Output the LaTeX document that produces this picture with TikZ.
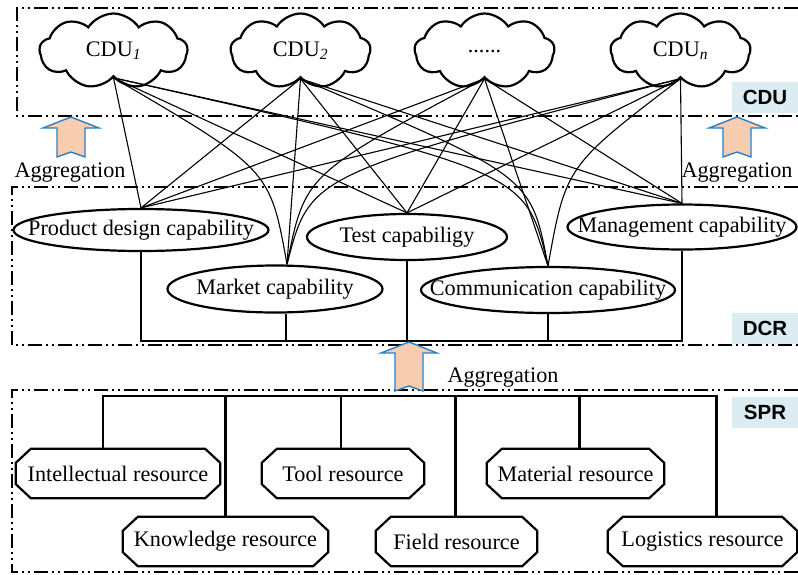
\documentclass[tikz,border=0pt]{standalone}
\usepackage{fontspec}
\setmainfont{Liberation Serif}
\newfontfamily\labsans{Liberation Sans}
\usetikzlibrary{shapes.symbols,shapes.misc,shapes.geometric,calc}
\definecolor{labbg}{RGB}{219,236,243}
\definecolor{arrfill}{RGB}{248,204,174}
\definecolor{arredge}{RGB}{40,128,205}
\begin{document}
\begin{tikzpicture}[x=1pt,y=-1pt,
  frame/.style={line width=1.8pt, dash pattern=on 14pt off 4pt on 2pt off 4pt on 2pt off 4pt},
  cloudn/.style={cloud, cloud puffs=9, cloud puff arc=115, cloud ignores aspect, draw, line width=2.2pt, minimum width=140pt, minimum height=75pt, inner sep=0pt, font=\fontsize{22.2}{26}\selectfont},
  capnode/.style={ellipse, draw, line width=2.2pt, inner sep=0pt, font=\fontsize{22.2}{26}\selectfont},
  res/.style={rectangle, inner sep=0pt, minimum height=49pt, font=\fontsize{22.2}{26}\selectfont},
  octo/.style={line width=2.2pt, line join=miter},
  link/.style={line width=1.1pt},
  bus/.style={line width=2.2pt},
  lab/.style={fill=labbg, font=\labsans\bfseries\fontsize{20.5}{24}\selectfont, minimum width=66pt, minimum height=31pt, inner sep=0pt},
  agg/.style={font=\fontsize{22.2}{26}\selectfont, inner sep=0pt},
  blockarrow/.style={fill=arrfill, draw=arredge, line width=1.4pt, line join=miter}]
\useasboundingbox (0,0) rectangle (798,574);

% frames
\draw[frame] (798,8) -- (17,8) -- (17,116) -- (798,116);
\draw[frame] (798,187) -- (12,187) -- (12,345) -- (798,345);
\draw[frame] (798,390) -- (12,390) -- (12,572) -- (798,572);

% layer labels
\node[lab] (lcdu) at (765,97) {CDU};
\node[lab] (ldcr) at (765,328) {DCR};
\node[lab] (lspr) at (765,412) {SPR};

% clouds
\node[cloudn, minimum width=148pt] (c1) at (113.5,51) {\raisebox{-7pt}{\makebox[0pt]{CDU\textsubscript{\textit{1}}}}};
\node[cloudn] (c2) at (300.5,51) {\raisebox{-7pt}{\makebox[0pt]{CDU\textsubscript{\textit{2}}}}};
\node[cloudn] (c3) at (484.5,51) {\raisebox{-3pt}{\makebox[0pt]{......}}};
\node[cloudn] (cn) at (680.5,51) {\raisebox{-7pt}{\makebox[0pt]{CDU\textsubscript{\textit{n}}}}};

% capabilities
\node[capnode, minimum width=255pt, minimum height=42pt] (pd) at (141,230) {\makebox[0pt]{Product design capability}};
\node[capnode, minimum width=215pt, minimum height=47pt] (mk) at (275,289) {\makebox[0pt]{Market capability}};
\node[capnode, minimum width=200pt, minimum height=46pt] (ts) at (407,237) {\makebox[0pt]{Test capabiligy}};
\node[capnode, minimum width=254pt, minimum height=46pt] (cm) at (548,290) {\makebox[0pt]{Communication capability}};
\node[capnode, minimum width=229pt, minimum height=45pt] (mg) at (682,227) {\makebox[0pt]{Management capability}};

% links CDU -> capabilities
\foreach \c in {c1,c2,c3,cn}{
  \draw[link] (\c.south) -- (pd.north);
  \draw[link] (\c.south) -- (ts.north);
  \draw[link] (\c.south) -- (mg.north);
}
\coordinate (mkt) at ($(mk.north)+(12,0)$);
\draw[link] (c2.south) -- (mkt);
\draw[link] (c1.south) .. controls ($(mkt)+(-17,-95)$) .. (mkt);
\draw[link] (c3.south) .. controls ($(mkt)+(18,-90)$) .. (mkt);
\draw[link] (cn.south) .. controls ($(mkt)+(23,-90)$) .. (mkt);
\draw[link] (c3.south) -- (cm.north);
\draw[link] (c1.south) .. controls ($(cm.north)+(-22,-95)$) .. (cm.north);
\draw[link] (c2.south) .. controls ($(cm.north)+(-17,-90)$) .. (cm.north);
\draw[link] (cn.south) .. controls ($(cm.north)+(18,-100)$) .. (cm.north);

% DCR bus
\coordinate (busD) at (0,341);
\draw[bus] (pd.south) |- (mg.south |- busD) -- (mg.south);
\draw[bus] ($(mk.south)+(11,0)$) -- ($(mk.south |- busD)+(11,0)$);
\draw[bus] (ts.south) -- (ts.south |- busD);
\draw[bus] (cm.south) -- (cm.south |- busD);

% resources
\node[res, minimum width=204pt] (int) at (118,473.5) {\makebox[0pt]{Intellectual resource}};
\node[res, minimum width=205pt] (knw) at (225.5,541.5) {\makebox[0pt]{Knowledge resource}};
\node[res, minimum width=162pt] (tool) at (343,473.5) {\makebox[0pt]{Tool resource}};
\node[res, minimum width=161pt] (fld) at (456.5,541.5) {\makebox[0pt]{Field resource}};
\node[res, minimum width=177pt] (mat) at (575.5,473.5) {\makebox[0pt]{Material resource}};
\node[res, minimum width=189pt] (log) at (702.5,541.5) {\makebox[0pt]{Logistics resource}};
\foreach \n in {int,knw,tool,fld,mat,log}
  \draw[octo] ([xshift=15pt]\n.north west) -- ([xshift=-15pt]\n.north east)
    -- ([yshift=-14pt]\n.north east) -- ([yshift=14pt]\n.south east)
    -- ([xshift=-15pt]\n.south east) -- ([xshift=15pt]\n.south west)
    -- ([yshift=14pt]\n.south west) -- ([yshift=-14pt]\n.north west) -- cycle;

% SPR bus
\coordinate (busS) at (0,396);
\draw[bus] ($(int.north)+(-15,0)$) |- ($(log.north |- busS)+(14,0)$) -- ($(log.north)+(14,0)$);
\foreach \n/\dx in {knw/0, tool/-2, fld/-1, mat/4}
  \draw[bus] ($(\n.north)+(\dx,0)$) -- ($(\n.north |- busS)+(\dx,0)$);

% aggregation arrows
\draw[blockarrow] (71,117) -- (99,128) -- (85,128) -- (85,157) -- (71,152) -- (57,157) -- (57,128) -- (43,128) -- cycle;
\draw[blockarrow] (737,117) -- (765,128) -- (751,128) -- (751,157) -- (737,152) -- (723,157) -- (723,128) -- (709,128) -- cycle;
\draw[blockarrow] (409,342) -- (437,353) -- (423,353) -- (423,391) -- (409,386) -- (395,391) -- (395,353) -- (381,353) -- cycle;

\node[agg] (a1) at (70,173) {Aggregation};
\node[agg] (a2) at (737,173) {Aggregation};
\node[agg] (a3) at (503,378) {Aggregation};
\end{tikzpicture}
\end{document}
